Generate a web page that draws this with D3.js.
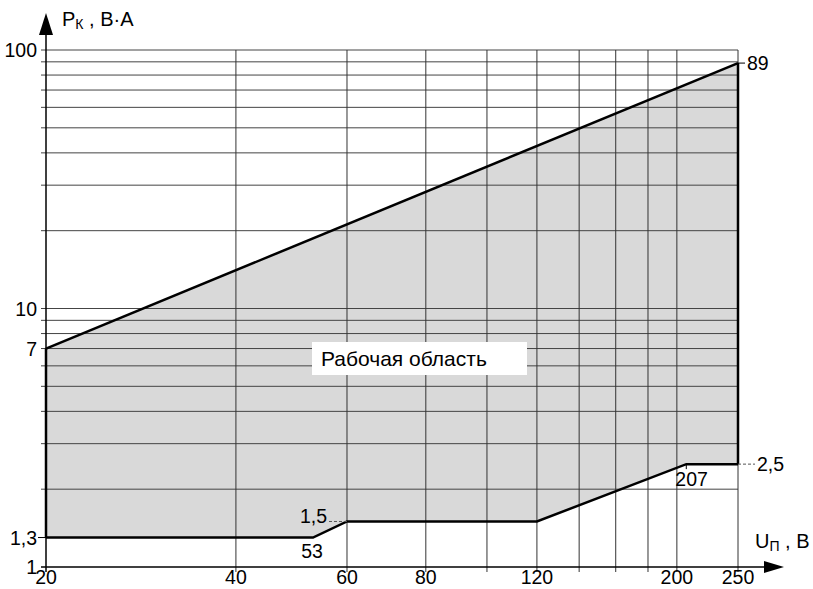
<!DOCTYPE html>
<html>
<head>
<meta charset="utf-8">
<script src="https://cdn.jsdelivr.net/npm/d3@7"></script>
<style>
  body { margin: 0; background: #fff; }
  svg text { font-family: "Liberation Sans", Arial, sans-serif; fill: #000; }
</style>
</head>
<body>
<svg id="chart" width="813" height="589"></svg>
<script>
// boundary of the working area
const upperU = [20, 250];
const upperP = [7, 89];
const lowerU = [20, 53, 60, 120, 207, 250];
const lowerP = [1.3, 1.3, 1.5, 1.5, 2.5, 2.5];

// grid and tick labels
const xGrid = [40, 60, 80, 100, 120, 140, 160, 180, 200, 250];
const yGrid = [2, 3, 4, 5, 6, 7, 8, 9, 10, 20, 30, 40, 50, 60, 70, 80, 90, 100];
const xTickLabels = [20, 40, 60, 80, 120, 200, 250];
const yTickLabels = [1, 7, 10, 100];

const svg = d3.select('#chart');

const x = d3.scaleLog().domain([20, 250]).range([46, 738]);
const y = d3.scaleLog().domain([1, 100]).range([567, 50]);

const fs = 19.5;

// filled area
const area = upperU.map((u, i) => [u, upperP[i]]).concat(
    lowerU.map((u, i) => [u, lowerP[i]]).reverse());
svg.append('path')
    .attr('d', d3.line().x(d => x(d[0])).y(d => y(d[1]))(area) + 'Z')
    .attr('fill', '#d9d9d9');

// grid
svg.append('g').selectAll('line').data(yGrid).join('line')
    .attr('x1', 41).attr('x2', x(250))
    .attr('y1', d => y(d)).attr('y2', d => y(d))
    .attr('stroke', '#444').attr('stroke-width', 1);

svg.append('g').selectAll('line').data(xGrid).join('line')
    .attr('x1', d => x(d)).attr('x2', d => x(d))
    .attr('y1', y(100)).attr('y2', 572)
    .attr('stroke', '#333').attr('stroke-width', 1);

// boundary lines
const line = d3.line().x(d => x(d[0])).y(d => y(d[1]));
svg.append('path')
    .attr('d', line(upperU.map((u, i) => [u, upperP[i]])))
    .attr('fill', 'none').attr('stroke', '#000').attr('stroke-width', 2.5);
svg.append('path')
    .attr('d', line(lowerU.map((u, i) => [u, lowerP[i]])))
    .attr('fill', 'none').attr('stroke', '#000').attr('stroke-width', 2.5);
svg.append('path')
    .attr('d', line([[250, 2.5], [250, 89]]))
    .attr('fill', 'none').attr('stroke', '#000').attr('stroke-width', 2.5);
svg.append('path')
    .attr('d', line([[20, 1.3], [20, 7]]))
    .attr('fill', 'none').attr('stroke', '#000').attr('stroke-width', 2.5);

// axes with arrows
svg.append('line').attr('x1', x(20)).attr('x2', x(20))
    .attr('y1', 572).attr('y2', 30)
    .attr('stroke', '#000').attr('stroke-width', 1.5);
svg.append('path')
    .attr('d', `M${x(20)},13 L${x(20) - 7},35 L${x(20) + 7},35 Z`)
    .attr('fill', '#000');
svg.append('line').attr('x1', 41).attr('x2', 770)
    .attr('y1', y(1)).attr('y2', y(1))
    .attr('stroke', '#000').attr('stroke-width', 1.5);
svg.append('path')
    .attr('d', `M784,${y(1)} L764,${y(1) - 6} L764,${y(1) + 6} Z`)
    .attr('fill', '#000');

// tick labels
svg.append('g').selectAll('text').data(xTickLabels).join('text')
    .attr('x', d => x(d)).attr('y', 584)
    .attr('text-anchor', 'middle').attr('font-size', fs)
    .text(d => d);

svg.append('g').selectAll('text').data(yTickLabels).join('text')
    .attr('x', 37).attr('y', d => y(d) + 7)
    .attr('text-anchor', 'end').attr('font-size', fs)
    .text(d => d);

svg.append('text').attr('x', 37).attr('y', y(1.3) + 7)
    .attr('text-anchor', 'end').attr('font-size', fs).text('1,3');
svg.append('line').attr('x1', 38).attr('x2', x(20))
    .attr('y1', y(1.3)).attr('y2', y(1.3))
    .attr('stroke', '#000').attr('stroke-width', 1);

// annotations
svg.append('text').attr('x', x(53) - 1).attr('y', y(1.3) + 20)
    .attr('text-anchor', 'middle').attr('font-size', fs).text('53');
svg.append('text').attr('x', x(60) - 20).attr('y', y(1.5) + 2)
    .attr('text-anchor', 'end').attr('font-size', fs).text('1,5');
svg.append('line').attr('x1', x(60) - 18).attr('x2', x(60))
    .attr('y1', y(1.5)).attr('y2', y(1.5))
    .attr('stroke', '#555').attr('stroke-width', 1).attr('stroke-dasharray', '3,2');
svg.append('text').attr('x', x(207) - 11).attr('y', y(2.5) + 22)
    .attr('font-size', fs).text('207');
svg.append('line').attr('x1', x(207)).attr('x2', x(207))
    .attr('y1', y(2.5)).attr('y2', y(2.5) + 5)
    .attr('stroke', '#000').attr('stroke-width', 1);
svg.append('line').attr('x1', x(250)).attr('x2', x(250) + 17)
    .attr('y1', y(2.5)).attr('y2', y(2.5))
    .attr('stroke', '#555').attr('stroke-width', 1).attr('stroke-dasharray', '3,2');
svg.append('text').attr('x', x(250) + 19).attr('y', y(2.5) + 7)
    .attr('font-size', fs).text('2,5');
svg.append('line').attr('x1', x(250)).attr('x2', x(250) + 7)
    .attr('y1', y(89)).attr('y2', y(89))
    .attr('stroke', '#000').attr('stroke-width', 1);
svg.append('text').attr('x', x(250) + 9).attr('y', y(89) + 7)
    .attr('font-size', fs).text('89');

// working area label
svg.append('rect').attr('x', 312).attr('y', 342).attr('width', 215).attr('height', 33)
    .attr('fill', '#fff');
svg.append('text').attr('x', 321).attr('y', 366)
    .attr('font-size', 21).text('Рабочая область');

// axis titles
const yTitle = svg.append('text').attr('x', 62).attr('y', 26).attr('font-size', 20);
yTitle.append('tspan').text('P');
yTitle.append('tspan').attr('font-size', 14).attr('dy', 3).text('К');
yTitle.append('tspan').attr('dy', -3).text(' , В·А');

const xTitle = svg.append('text').attr('x', 755).attr('y', 548).attr('font-size', 20);
xTitle.append('tspan').text('U');
xTitle.append('tspan').attr('font-size', 14).attr('dy', 3).text('П');
xTitle.append('tspan').attr('dy', -3).text(' , В');
</script>
</body>
</html>
